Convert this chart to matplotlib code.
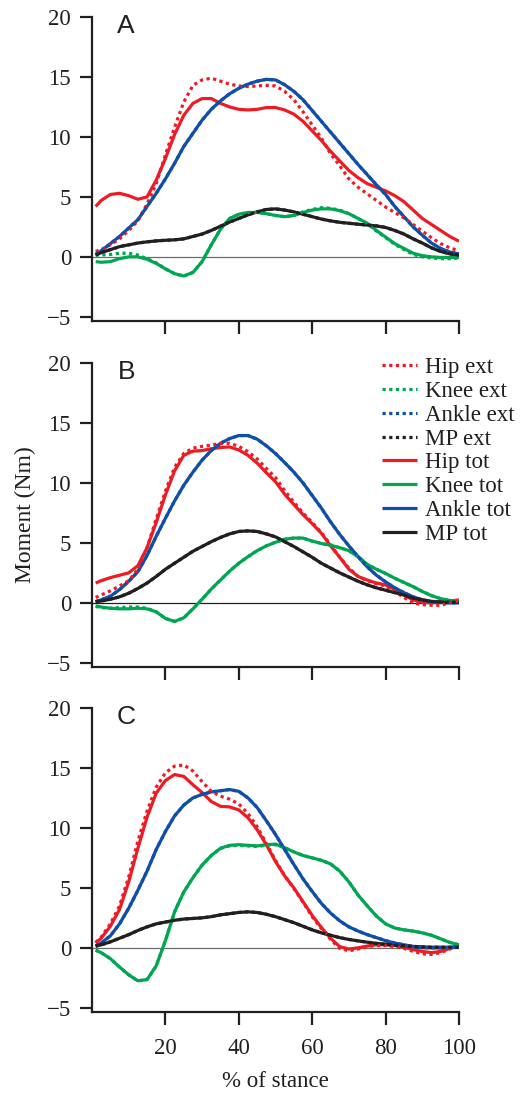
import numpy as np
import matplotlib
matplotlib.use("Agg")
import matplotlib.pyplot as plt

# ─── data (moment in Nm, sampled along % of stance) ─────────────
STANCE = np.concatenate([[1.0], np.arange(2.5, 100.01, 2.5)])

# panel A
hip_tot_a = [4.2, 4.7, 5.2, 5.3, 5.1, 4.8, 5.0, 6.4, 8.2, 10.2,
             11.8, 12.8, 13.2, 13.2, 12.8, 12.5, 12.3, 12.25, 12.3, 12.45,
             12.45, 12.25, 11.9, 11.3, 10.5, 9.7, 8.8, 8.0, 7.2, 6.6,
             6.1, 5.8, 5.5, 5.1, 4.6, 3.9, 3.2, 2.7, 2.2, 1.7, 1.3]
hip_ext_a = [0.45, 0.6, 1.0, 1.5, 2.2, 3.0, 4.4, 6.1, 8.5, 10.8,
             12.9, 14.3, 14.75, 14.9, 14.65, 14.4, 14.25, 14.2, 14.25, 14.3,
             14.25, 13.8, 13.1, 12.1, 11.0, 9.9, 8.6, 7.6, 6.5, 5.8,
             5.25, 4.7, 4.15, 3.7, 3.25, 2.7, 2.15, 1.6, 1.1, 0.75, 0.5]
ankle_tot_a = [0.2, 0.5, 1.1, 1.7, 2.4, 3.1, 4.2, 5.3, 6.5, 7.8,
               9.2, 10.3, 11.4, 12.3, 13.0, 13.6, 14.05, 14.4, 14.65, 14.8,
               14.75, 14.35, 13.8, 13.1, 12.2, 11.3, 10.4, 9.5, 8.6, 7.7,
               6.85, 6.0, 5.2, 4.2, 3.35, 2.5, 1.8, 1.15, 0.7, 0.4, 0.25]
ankle_ext_a = [0.2, 0.5, 1.1, 1.7, 2.4, 3.1, 4.2, 5.3, 6.5, 7.8,
               9.2, 10.3, 11.4, 12.3, 13.0, 13.6, 14.05, 14.4, 14.65, 14.8,
               14.75, 14.35, 13.8, 13.1, 12.2, 11.3, 10.4, 9.5, 8.6, 7.7,
               6.85, 6.0, 5.2, 4.2, 3.35, 2.5, 1.8, 1.15, 0.7, 0.4, 0.25]
knee_tot_a = [-0.4, -0.45, -0.4, -0.15, 0.0, 0.0, -0.2, -0.55, -1.0, -1.4,
              -1.6, -1.3, -0.4, 1.0, 2.3, 3.2, 3.55, 3.7, 3.7, 3.6,
              3.45, 3.35, 3.45, 3.7, 3.9, 4.0, 4.0, 3.85, 3.6, 3.2,
              2.8, 2.2, 1.65, 1.1, 0.7, 0.3, 0.1, 0.0, -0.05, -0.05, -0.05]
knee_ext_a = [0.15, 0.15, 0.2, 0.3, 0.3, 0.15, -0.15, -0.5, -1.0, -1.4,
              -1.6, -1.3, -0.4, 1.0, 2.3, 3.2, 3.55, 3.7, 3.7, 3.6,
              3.45, 3.35, 3.45, 3.75, 3.95, 4.1, 4.05, 3.9, 3.6, 3.2,
              2.75, 2.15, 1.6, 1.05, 0.6, 0.2, 0.0, -0.1, -0.15, -0.15, -0.1]
mp_tot_a = [0.15, 0.35, 0.6, 0.85, 1.0, 1.15, 1.25, 1.33, 1.38, 1.42,
            1.5, 1.7, 1.9, 2.2, 2.55, 2.9, 3.2, 3.5, 3.75, 3.95,
            4.0, 3.9, 3.75, 3.55, 3.35, 3.15, 3.0, 2.88, 2.8, 2.72,
            2.65, 2.58, 2.45, 2.2, 1.9, 1.5, 1.15, 0.75, 0.45, 0.25, 0.15]
mp_ext_a = [0.15, 0.35, 0.6, 0.85, 1.0, 1.15, 1.25, 1.33, 1.38, 1.42,
            1.5, 1.7, 1.9, 2.2, 2.55, 2.9, 3.2, 3.5, 3.75, 3.95,
            4.0, 3.9, 3.75, 3.55, 3.35, 3.15, 3.0, 2.88, 2.8, 2.72,
            2.65, 2.58, 2.45, 2.2, 1.9, 1.5, 1.15, 0.75, 0.45, 0.25, 0.15]

# panel B
hip_tot_b = [1.65, 1.85, 2.1, 2.3, 2.5, 3.1, 4.6, 6.7, 9.0, 11.0,
             12.3, 12.65, 12.7, 12.85, 12.95, 13.0, 12.75, 12.3, 11.65, 10.85,
             10.1, 9.05, 8.2, 7.35, 6.6, 5.8, 4.75, 3.8, 2.8, 2.2,
             1.9, 1.65, 1.5, 1.1, 0.65, 0.25, 0.05, 0.0, 0.05, 0.15, 0.25]
hip_ext_b = [0.45, 0.65, 1.0, 1.4, 1.85, 2.8, 4.6, 7.0, 9.3, 11.3,
             12.45, 12.9, 13.05, 13.15, 13.3, 13.3, 13.05, 12.6, 12.0, 11.2,
             10.45, 9.35, 8.4, 7.5, 6.7, 5.85, 4.85, 3.8, 2.9, 2.2,
             1.85, 1.6, 1.4, 0.95, 0.45, 0.0, -0.15, -0.2, -0.2, 0.0, 0.15]
ankle_tot_b = [0.1, 0.25, 0.55, 1.1, 1.8, 2.6, 3.95, 5.55, 7.05, 8.5,
               9.8, 10.9, 11.9, 12.7, 13.3, 13.7, 13.95, 13.95, 13.65, 13.1,
               12.45, 11.7, 10.9, 10.0, 8.95, 7.9, 6.75, 5.7, 4.75, 3.85,
               3.0, 2.3, 1.75, 1.25, 0.85, 0.5, 0.25, 0.1, 0.03, 0.0, 0.0]
ankle_ext_b = [0.1, 0.25, 0.55, 1.1, 1.8, 2.6, 3.95, 5.55, 7.05, 8.5,
               9.8, 10.9, 11.9, 12.7, 13.3, 13.7, 13.95, 13.95, 13.65, 13.1,
               12.45, 11.7, 10.9, 10.0, 8.95, 7.9, 6.75, 5.7, 4.75, 3.85,
               3.0, 2.3, 1.75, 1.25, 0.85, 0.5, 0.25, 0.1, 0.03, 0.0, 0.0]
knee_tot_b = [-0.25, -0.35, -0.45, -0.5, -0.5, -0.45, -0.5, -0.75, -1.3, -1.55,
              -1.25, -0.5, 0.3, 1.15, 1.9, 2.65, 3.3, 3.85, 4.35, 4.75,
              5.05, 5.3, 5.4, 5.4, 5.15, 4.95, 4.8, 4.6, 4.35, 3.85,
              3.2, 2.8, 2.45, 2.05, 1.7, 1.35, 0.95, 0.6, 0.35, 0.2, 0.15]
knee_ext_b = [-0.3, -0.4, -0.45, -0.4, -0.35, -0.35, -0.45, -0.75, -1.3, -1.55,
              -1.25, -0.5, 0.3, 1.15, 1.9, 2.65, 3.3, 3.85, 4.35, 4.75,
              5.05, 5.3, 5.4, 5.4, 5.15, 4.95, 4.8, 4.6, 4.35, 3.85,
              3.2, 2.8, 2.45, 2.05, 1.7, 1.35, 0.95, 0.6, 0.35, 0.2, 0.15]
mp_tot_b = [0.1, 0.15, 0.3, 0.5, 0.8, 1.2, 1.65, 2.2, 2.8, 3.3,
            3.8, 4.3, 4.7, 5.1, 5.45, 5.75, 5.95, 6.0, 5.95, 5.75,
            5.5, 5.1, 4.7, 4.25, 3.8, 3.3, 2.9, 2.5, 2.15, 1.8,
            1.5, 1.25, 1.05, 0.85, 0.65, 0.4, 0.25, 0.12, 0.07, 0.05, 0.05]
mp_ext_b = [0.1, 0.15, 0.3, 0.5, 0.8, 1.2, 1.65, 2.2, 2.8, 3.3,
            3.8, 4.3, 4.7, 5.1, 5.45, 5.75, 5.95, 6.0, 5.95, 5.75,
            5.5, 5.1, 4.7, 4.25, 3.8, 3.3, 2.9, 2.5, 2.15, 1.8,
            1.5, 1.25, 1.05, 0.85, 0.65, 0.4, 0.25, 0.12, 0.07, 0.05, 0.05]

# panel C
hip_tot_c = [0.4, 0.8, 1.8, 3.2, 5.5, 8.3, 10.9, 12.9, 13.95, 14.45,
             14.3, 13.6, 12.95, 12.2, 11.8, 11.75, 11.5, 10.85, 9.85, 8.6,
             7.2, 6.0, 5.0, 3.85, 2.7, 1.7, 0.8, 0.1, -0.1, 0.0,
             0.15, 0.25, 0.25, 0.2, 0.05, -0.15, -0.3, -0.4, -0.3, -0.05, 0.25]
hip_ext_c = [0.45, 0.9, 2.0, 3.5, 5.9, 8.9, 11.4, 13.4, 14.6, 15.15,
             15.25, 14.75, 13.85, 13.05, 12.65, 12.4, 12.0, 11.2, 10.1, 8.7,
             7.3, 6.0, 4.95, 3.8, 2.6, 1.6, 0.7, -0.05, -0.25, -0.1,
             0.1, 0.2, 0.2, 0.1, -0.05, -0.3, -0.5, -0.55, -0.4, -0.1, 0.2]
ankle_tot_c = [0.15, 0.4, 1.0, 2.0, 3.3, 4.8, 6.4, 8.2, 9.7, 11.0,
               11.9, 12.5, 12.8, 13.0, 13.1, 13.2, 13.05, 12.5, 11.7, 10.6,
               9.45, 8.2, 6.95, 5.75, 4.7, 3.7, 2.9, 2.25, 1.75, 1.4,
               1.1, 0.85, 0.6, 0.4, 0.25, 0.1, 0.02, 0.0, 0.0, 0.02, 0.05]
ankle_ext_c = [0.15, 0.4, 1.0, 2.0, 3.3, 4.8, 6.4, 8.2, 9.7, 11.0,
               11.9, 12.5, 12.8, 13.0, 13.1, 13.2, 13.05, 12.5, 11.7, 10.6,
               9.45, 8.2, 6.95, 5.75, 4.7, 3.7, 2.9, 2.25, 1.75, 1.4,
               1.1, 0.85, 0.6, 0.4, 0.25, 0.1, 0.02, 0.0, 0.0, 0.02, 0.05]
knee_tot_c = [-0.2, -0.4, -0.9, -1.6, -2.25, -2.75, -2.65, -1.5, 0.6, 3.0,
              4.65, 5.85, 6.9, 7.7, 8.3, 8.55, 8.6, 8.55, 8.5, 8.6,
              8.65, 8.35, 8.0, 7.7, 7.5, 7.3, 7.0, 6.4, 5.5, 4.4,
              3.5, 2.65, 2.0, 1.65, 1.5, 1.4, 1.25, 1.05, 0.75, 0.45, 0.25]
knee_ext_c = [-0.2, -0.4, -0.9, -1.6, -2.25, -2.75, -2.65, -1.5, 0.6, 3.0,
              4.65, 5.85, 6.9, 7.7, 8.3, 8.5, 8.55, 8.5, 8.45, 8.55,
              8.6, 8.35, 8.0, 7.7, 7.5, 7.3, 7.0, 6.4, 5.5, 4.4,
              3.5, 2.65, 2.0, 1.65, 1.5, 1.4, 1.25, 1.05, 0.75, 0.45, 0.25]
mp_tot_c = [0.15, 0.25, 0.5, 0.8, 1.1, 1.45, 1.75, 2.0, 2.15, 2.3,
            2.4, 2.45, 2.5, 2.6, 2.75, 2.85, 2.95, 3.0, 2.95, 2.8,
            2.6, 2.35, 2.1, 1.8, 1.5, 1.25, 1.05, 0.85, 0.7, 0.58,
            0.47, 0.37, 0.3, 0.22, 0.17, 0.12, 0.08, 0.05, 0.05, 0.05, 0.05]
mp_ext_c = [0.15, 0.25, 0.5, 0.8, 1.1, 1.45, 1.75, 2.0, 2.15, 2.3,
            2.4, 2.45, 2.5, 2.6, 2.75, 2.85, 2.95, 3.0, 2.95, 2.8,
            2.6, 2.35, 2.1, 1.8, 1.5, 1.25, 1.05, 0.85, 0.7, 0.58,
            0.47, 0.37, 0.3, 0.22, 0.17, 0.12, 0.08, 0.05, 0.05, 0.05, 0.05]

JOINTS = ["Hip", "Knee", "Ankle", "MP"]
COLORS = {"Hip": "#ed1c24", "Knee": "#00a651", "Ankle": "#0f4fa8", "MP": "#231f20"}
Y_TICKS = [-5, 0, 5, 10, 15, 20]
X_TICKS = [20, 40, 60, 80, 100]
# ────────────────────────────────────────────────────────────────

PANELS = [
    ("A", {"Hip": (hip_tot_a, hip_ext_a), "Knee": (knee_tot_a, knee_ext_a),
           "Ankle": (ankle_tot_a, ankle_ext_a), "MP": (mp_tot_a, mp_ext_a)}),
    ("B", {"Hip": (hip_tot_b, hip_ext_b), "Knee": (knee_tot_b, knee_ext_b),
           "Ankle": (ankle_tot_b, ankle_ext_b), "MP": (mp_tot_b, mp_ext_b)}),
    ("C", {"Hip": (hip_tot_c, hip_ext_c), "Knee": (knee_tot_c, knee_ext_c),
           "Ankle": (ankle_tot_c, ankle_ext_c), "MP": (mp_tot_c, mp_ext_c)}),
]

plt.rcParams["font.family"] = ["Liberation Serif", "DejaVu Serif"]
plt.rcParams["font.size"] = 16.5

LW = 2.3
FIG_W, FIG_H = 525, 1094
ZERO_COLOR = {"A": "#6d6d6d", "B": "#231f20", "C": "#6d6d6d"}


def draw_panel(ax, letter, curves):
    ax.axhline(0, color=ZERO_COLOR[letter], lw=0.9, zorder=1)
    handles = {}
    # totals first, dotted external moments on top
    for j in JOINTS:
        tot, ext = curves[j]
        handles[j + " tot"], = ax.plot(STANCE, tot, color=COLORS[j], lw=LW,
                                       solid_capstyle="butt", zorder=2)
    for j in JOINTS:
        tot, ext = curves[j]
        handles[j + " ext"], = ax.plot(STANCE, ext, color=COLORS[j], lw=LW,
                                       linestyle=(0, (1, 1.1)), zorder=3)

    ax.set_xlim(0, 100)
    ax.set_ylim(-5.35, 20)
    ax.set_yticks(Y_TICKS)
    ax.set_xticks(X_TICKS)
    for s in ("top", "right"):
        ax.spines[s].set_visible(False)
    for s in ("left", "bottom"):
        ax.spines[s].set_linewidth(1.6)
        ax.spines[s].set_color("#231f20")
    ax.tick_params(direction="out", length=9, width=1.6, color="#231f20",
                   labelsize=16.5, labelcolor="#231f20")
    ax.tick_params(axis="y", pad=6)
    ax.tick_params(axis="x", pad=9.5)
    ax.text(0.093, 0.972, letter, transform=ax.transAxes, ha="center", va="center",
            fontsize=19, family="Liberation Sans", color="#231f20")
    return handles


def main():
    fig = plt.figure(figsize=(FIG_W / 100, FIG_H / 100), dpi=100)
    left = 92 / FIG_W
    width = 367 / FIG_W
    height = 304 / FIG_H
    bottoms = [321, 667, 1012]

    axes = []
    for (letter, curves), b in zip(PANELS, bottoms):
        ax = fig.add_axes([left, 1 - b / FIG_H, width, height])
        h = draw_panel(ax, letter, curves)
        axes.append((ax, h))

    ax_a, _ = axes[0]
    ax_b, hb = axes[1]
    ax_c, _ = axes[2]
    ax_a.tick_params(axis="x", labelbottom=False)
    ax_b.tick_params(axis="x", labelbottom=False)

    ax_b.set_ylabel("Moment (Nm)", fontsize=17, color="#231f20", labelpad=8)
    ax_c.set_xlabel("% of stance", fontsize=16.5, color="#231f20", labelpad=9)

    order = [j + " ext" for j in JOINTS] + [j + " tot" for j in JOINTS]
    leg = ax_b.legend([hb[k] for k in order], order, loc="upper left",
                      bbox_to_anchor=(0.79, 1.019), frameon=False,
                      fontsize=16.5, handlelength=1.55, handletextpad=0.35,
                      labelspacing=0.12, borderpad=0, borderaxespad=0)
    for t in leg.get_texts():
        t.set_color("#231f20")

    fig.savefig("out.png", dpi=100)


if __name__ == "__main__":
    main()
